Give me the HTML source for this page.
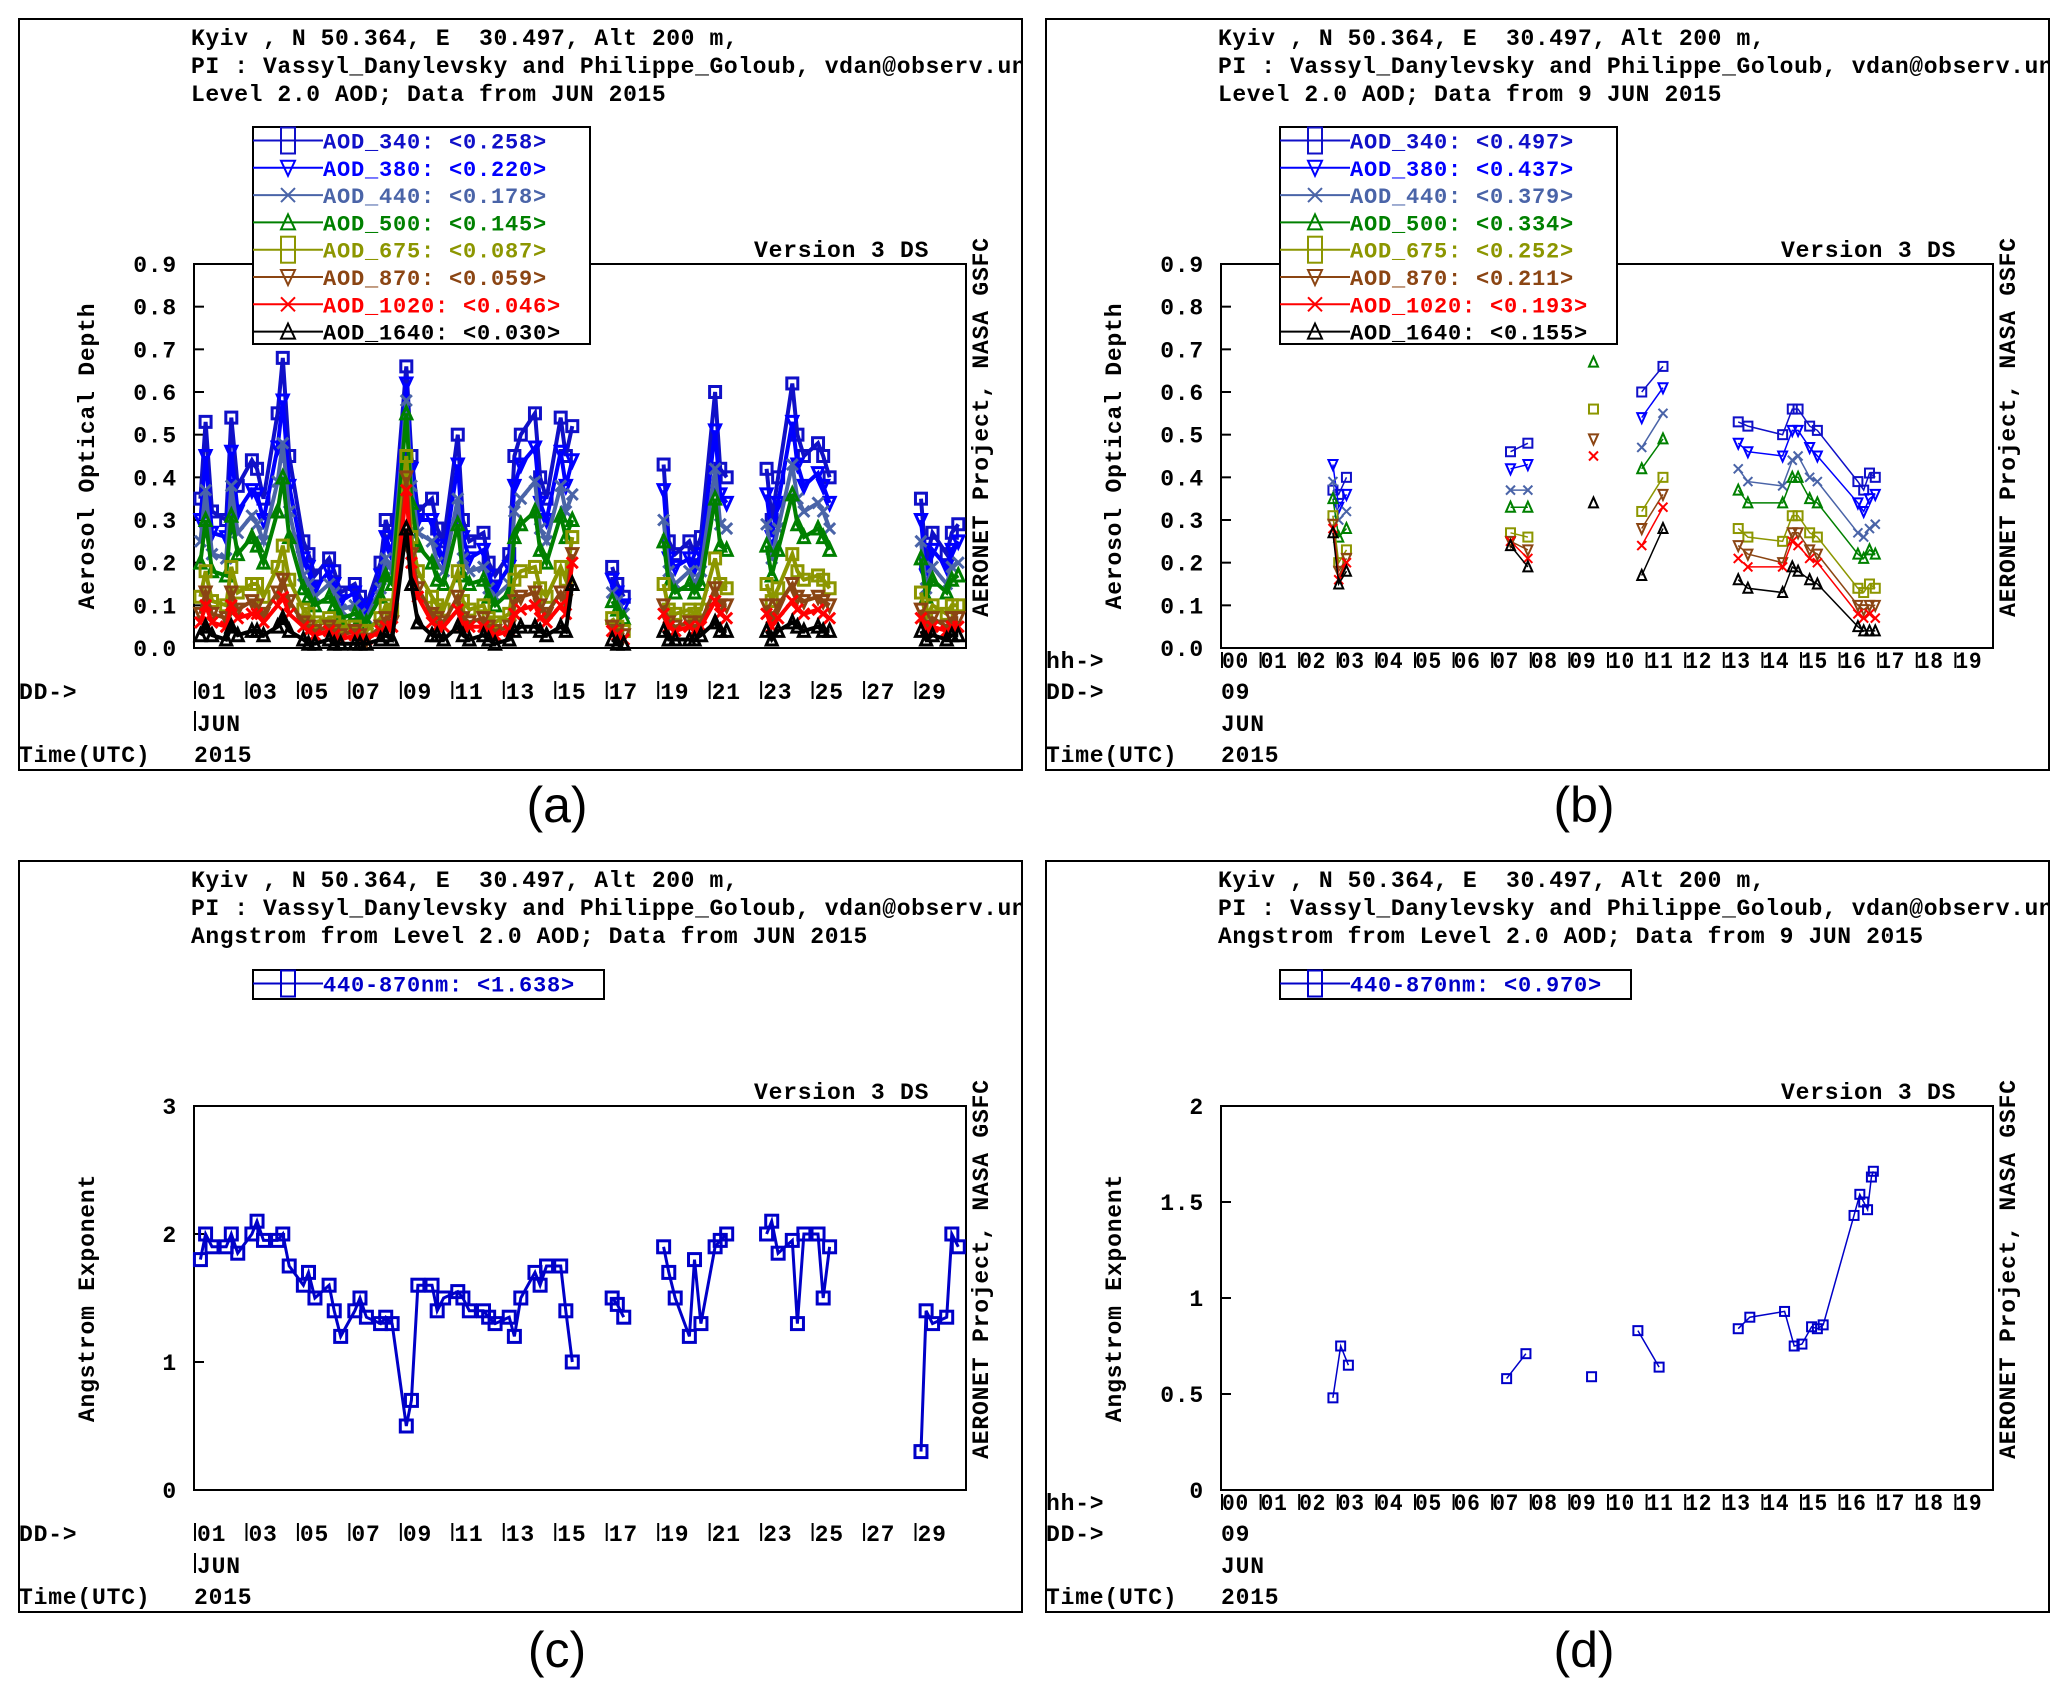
<!DOCTYPE html>
<html><head><meta charset="utf-8"><style>
html,body{margin:0;padding:0;background:#fff;}
svg{display:block;}
text{font-family:"Liberation Mono","DejaVu Sans Mono",monospace;font-weight:bold;white-space:pre;}
.lab{font-family:"Liberation Sans",sans-serif;font-weight:normal;}
</style></head><body>
<svg id="fig" width="2067" height="1702" viewBox="0 0 2067 1702" xmlns="http://www.w3.org/2000/svg" xml:space="preserve"></svg>
<script>
// ---------- Panel (a): monthly AOD ----------
const daysA = [0,1,2,3,4,5,6,7,8,9,10,11,12,13,14,16,18,19,20,22,23,24,28,29];
const fracA = [0.25,0.45,0.7];
const aod340 = [.35,.53,.32, .30,.54,.38, .44,.42,.35, .55,.68,.45, .25,.22,.17, .21,.18,.13, .15,.12,.10, .20,.30,.25, .66,.45,.32, .35,.28,.25, .50,.30,.25, .27,.20,.17, .22,.45,.50, .55,.40,.35, .54,.45,.52, .19,.15,.12, .43,.25,.22, .25,.22,.26, .60,.42,.40, .42,.30,.40, .62,.50,.45, .48,.45,.40, .35,.20,.27, .22,.27,.29];
const aod380 = [.30,.45,.27, .26,.46,.32, .37,.36,.30, .47,.58,.38, .21,.19,.14, .18,.15,.11, .13,.10,.09, .17,.26,.22, .62,.42,.30, .30,.24,.21, .43,.26,.21, .23,.17,.14, .19,.38,.43, .47,.34,.30, .46,.38,.44, .16,.13,.10, .37,.21,.19, .21,.19,.22, .51,.36,.34, .36,.26,.34, .53,.43,.38, .41,.38,.34, .30,.17,.23, .19,.23,.25];
const aod440 = [.25,.37,.22, .21,.38,.27, .31,.29,.25, .39,.48,.32, .17,.15,.12, .15,.13,.09, .10,.08,.07, .14,.21,.18, .58,.38,.27, .25,.20,.18, .35,.21,.18, .19,.14,.12, .15,.32,.35, .39,.28,.25, .38,.32,.36, .13,.11,.08, .30,.18,.15, .18,.15,.18, .42,.29,.28, .29,.21,.28, .43,.35,.32, .34,.32,.28, .25,.14,.19, .15,.19,.20];
const aod500 = [.20,.30,.18, .17,.31,.22, .26,.24,.20, .32,.40,.26, .14,.12,.10, .12,.10,.07, .08,.07,.06, .12,.17,.15, .55,.34,.24, .20,.16,.15, .29,.17,.15, .16,.12,.10, .13,.26,.29, .32,.23,.20, .31,.26,.30, .11,.09,.07, .25,.15,.13, .15,.13,.15, .35,.24,.23, .24,.17,.23, .36,.29,.26, .28,.26,.23, .21,.12,.16, .13,.16,.17];
const aod675 = [.12,.18,.11, .10,.19,.13, .15,.15,.12, .19,.24,.16, .09,.08,.06, .07,.06,.05, .05,.04,.04, .07,.10,.09, .45,.26,.18, .12,.10,.09, .18,.11,.09, .10,.07,.06, .08,.16,.18, .19,.14,.12, .19,.16,.26, .07,.05,.04, .15,.09,.08, .09,.08,.09, .21,.15,.14, .15,.11,.14, .22,.18,.16, .17,.16,.14, .13,.07,.10, .08,.10,.10];
const aod870 = [.08,.13,.08, .07,.13,.09, .11,.10,.08, .13,.16,.11, .06,.05,.04, .05,.04,.03, .04,.03,.02, .05,.07,.06, .40,.22,.14, .08,.07,.06, .12,.07,.06, .07,.05,.04, .05,.11,.12, .13,.10,.08, .13,.11,.22, .05,.04,.03, .10,.06,.05, .06,.05,.06, .14,.10,.10, .10,.07,.10, .15,.12,.11, .12,.11,.10, .09,.05,.07, .05,.07,.07];
const aod1020 = [.06,.10,.06, .05,.10,.07, .08,.08,.06, .10,.12,.08, .05,.04,.03, .04,.03,.02, .03,.02,.02, .04,.05,.05, .37,.20,.12, .06,.05,.05, .09,.05,.05, .05,.04,.03, .04,.08,.09, .10,.07,.06, .10,.08,.20, .04,.03,.02, .08,.05,.04, .05,.04,.05, .11,.08,.07, .08,.05,.07, .11,.09,.08, .09,.08,.07, .07,.04,.05, .04,.05,.05];
const aod1640 = [.03,.05,.03, .02,.05,.03, .04,.04,.03, .05,.07,.04, .02,.01,.01, .02,.01,.01, .01,.01,.01, .02,.03,.02, .28,.15,.06, .03,.03,.02, .05,.03,.02, .03,.02,.01, .02,.04,.05, .05,.04,.03, .05,.04,.15, .02,.01,.01, .04,.02,.02, .02,.02,.03, .06,.04,.04, .04,.02,.04, .06,.05,.04, .05,.04,.04, .04,.02,.03, .02,.03,.03];
const angA = [1.8,2.0,1.9, 1.9,2.0,1.85, 2.0,2.1,1.95, 1.95,2.0,1.75, 1.6,1.7,1.5, 1.6,1.4,1.2, 1.4,1.5,1.35, 1.3,1.35,1.3, 0.5,0.7,1.6, 1.6,1.4,1.5, 1.55,1.5,1.4, 1.4,1.35,1.3, 1.35,1.2,1.5, 1.7,1.6,1.75, 1.75,1.4,1.0, 1.5,1.45,1.35, 1.9,1.7,1.5, 1.2,1.8,1.3, 1.9,1.95,2.0, 2.0,2.1,1.85, 1.95,1.3,2.0, 2.0,1.5,1.9, 0.3,1.4,1.3, 1.35,2.0,1.9];
// ---------- Panel (b): 9 June AOD ----------
const hoursB = [2.9,3.05,3.25, 7.5,7.95, 9.65, 10.9,11.45, 13.4,13.65,14.55,14.8,14.95,15.25,15.45,16.5,16.65,16.8,16.95];
const groupB = [0,0,0, 1,1, 2, 3,3, 4,4,4,4,4,4,4,4,4,4,4];
const b340 = [0.37,0.36,0.40, 0.46,0.48, null, 0.60,0.66, 0.53,0.52,0.50,0.56,0.56,0.52,0.51,0.39,0.37,0.41,0.40];
const b380 = [0.43,0.33,0.36, 0.42,0.43, null, 0.54,0.61, 0.48,0.46,0.45,0.51,0.51,0.47,0.45,0.34,0.32,0.35,0.36];
const b440 = [0.39,0.30,0.32, 0.37,0.37, null, 0.47,0.55, 0.42,0.39,0.38,0.44,0.45,0.40,0.39,0.27,0.26,0.28,0.29];
const b500 = [0.35,0.26,0.28, 0.33,0.33, 0.67, 0.42,0.49, 0.37,0.34,0.34,0.40,0.40,0.35,0.34,0.22,0.21,0.23,0.22];
const b675 = [0.31,0.20,0.23, 0.27,0.26, 0.56, 0.32,0.40, 0.28,0.26,0.25,0.31,0.31,0.27,0.26,0.14,0.13,0.15,0.14];
const b870 = [0.29,0.18,0.21, 0.25,0.23, 0.49, 0.28,0.36, 0.24,0.22,0.20,0.27,0.27,0.23,0.22,0.10,0.09,0.10,0.10];
const b1020 = [0.28,0.16,0.20, 0.25,0.21, 0.45, 0.24,0.33, 0.21,0.19,0.19,0.25,0.24,0.21,0.20,0.08,0.07,0.08,0.07];
const b1640 = [0.27,0.15,0.18, 0.24,0.19, 0.34, 0.17,0.28, 0.16,0.14,0.13,0.19,0.18,0.16,0.15,0.05,0.04,0.04,0.04];
// ---------- Panel (d): 9 June Angstrom ----------
const hoursD = [2.9,3.1,3.3, 7.4,7.9, 9.6, 10.8,11.35, 13.4,13.7,14.6,14.85,15.05,15.3,15.45,15.6,16.4,16.55,16.65,16.75,16.85,16.9];
const groupD = [0,0,0, 1,1, 2, 3,3, 4,4,4,4,4,4,4,4,4,4,4,4,4,4];
const angD = [0.48,0.75,0.65, 0.58,0.71, 0.59, 0.83,0.64, 0.84,0.90,0.93,0.75,0.76,0.85,0.84,0.86,1.43,1.54,1.50,1.46,1.63,1.66];
// ---------- labels ----------
const legA = ["AOD_340: <0.258>","AOD_380: <0.220>","AOD_440: <0.178>","AOD_500: <0.145>","AOD_675: <0.087>","AOD_870: <0.059>","AOD_1020: <0.046>","AOD_1640: <0.030>"];
const legB = ["AOD_340: <0.497>","AOD_380: <0.437>","AOD_440: <0.379>","AOD_500: <0.334>","AOD_675: <0.252>","AOD_870: <0.211>","AOD_1020: <0.193>","AOD_1640: <0.155>"];
const aodTicks = ["0.0","0.1","0.2","0.3","0.4","0.5","0.6","0.7","0.8","0.9"];
const angTicksC = ["0","1","2","3"];
const angTicksD = ["0","0.5","1","1.5","2"];
const dayLabels = ["01","03","05","07","09","11","13","15","17","19","21","23","25","27","29"];
const hourLabels = ["00","01","02","03","04","05","06","07","08","09","10","11","12","13","14","15","16","17","18","19"];

const colors = ["#1010c8","#0000ff","#4a64a8","#008000","#8c9600","#8b4513","#ff0000","#000000"];
const markers = ["sq","dn","x","up","sq","dn","x","up"];
const seriesNames = ["340","380","440","500","675","870","1020","1640"];

const NS="http://www.w3.org/2000/svg";
const svg=document.getElementById('fig');
function el(tag,attrs,parent){const e=document.createElementNS(NS,tag);for(const k in attrs)e.setAttribute(k,attrs[k]);(parent||svg).appendChild(e);return e;}
function txt(s,x,y,attrs,parent){const e=el('text',Object.assign({x:x,y:y,'letter-spacing':'0.8'},attrs||{}),parent);e.textContent=s;return e;}
function marker(g,type,x,y,c,s,sw){
  s=s||4.5;sw=sw||2;let e;
  if(type==="sq"){e=el('rect',{x:x-s,y:y-s,width:2*s,height:2*s,fill:'none',stroke:c,'stroke-width':sw},g);}
  else if(type==="dn"){e=el('path',{d:`M${x-s} ${y-s}L${x+s} ${y-s}L${x} ${y+s+1}Z`,fill:'none',stroke:c,'stroke-width':sw},g);}
  else if(type==="up"){e=el('path',{d:`M${x-s} ${y+s}L${x+s} ${y+s}L${x} ${y-s-1}Z`,fill:'none',stroke:c,'stroke-width':sw},g);}
  else {e=el('path',{d:`M${x-s} ${y-s}L${x+s} ${y+s}M${x+s} ${y-s}L${x-s} ${y+s}`,stroke:c,'stroke-width':sw},g);}
  
  
}

function panel(ox,oy,o){
  const g=el('g',{});
  
  
  const cid='clip'+o.key;
  const cp=el('clipPath',{id:cid},g);el('rect',{x:19+ox,y:19+oy,width:1003,height:751},cp);
  const fr=el('rect',{x:19+ox,y:19+oy,width:1003,height:751,fill:'none',stroke:'#000','stroke-width':2},g);
  
  const tg=el('g',{'clip-path':`url(#${cid})`,'font-size':'23'},g);
  
  txt("Kyiv , N 50.364, E  30.497, Alt 200 m,",191+ox,45+oy,{'letter-spacing':'0.6'},tg);
  txt("PI : Vassyl_Danylevsky and Philippe_Goloub, vdan@observ.univ.kiev.ua",191+ox,73+oy,{'letter-spacing':'0.6'},tg);
  txt(o.line3,191+ox,101+oy,{'letter-spacing':'0.6'},tg);
  const X0=194+ox,X1=966+ox,Y0=264+oy,Y1=648+oy;
  const px=v=>X0+(v-o.xmin)/(o.xmax-o.xmin)*(X1-X0);
  const py=v=>Y1-(v-o.ymin)/(o.ymax-o.ymin)*(Y1-Y0);
  const pr=el('rect',{x:X0,y:Y0,width:X1-X0,height:Y1-Y0,fill:'none',stroke:'#000','stroke-width':2},g);
  
  o.yticks.forEach(t=>{const v=parseFloat(t);const y=py(v);
    el('line',{x1:X0,x2:X0+10,y1:y,y2:y,stroke:'#000','stroke-width':2},g);
    const e=txt(t,177+ox,y+8,{'text-anchor':'end','font-size':'23'},g);
    });
  const yt=txt(o.ytitle,0,0,{'text-anchor':'middle','font-size':'23',transform:`translate(${94+ox},${(Y0+Y1)/2+(o.ytOff||0)}) rotate(-90)`},g);
  
  const rt=txt("AERONET Project, NASA GSFC",0,0,{'text-anchor':'middle','font-size':'23',transform:`translate(${988+ox},${427+oy}) rotate(-90)`},g);
  
  const vt=txt("Version 3 DS",754+ox,257+oy,{'font-size':'23'},g);
  
  if(o.hourly){
    txt("hh->",19+ox,668+oy,{'font-size':'23'},g);
    hourLabels.forEach((h,i)=>{const x=px(i);el('line',{x1:x+1,x2:x+1,y1:652+oy,y2:668+oy,stroke:'#000','stroke-width':2},g);
      const e=txt(h,x+1,668+oy,{'font-size':'23',textLength:'27',lengthAdjust:'spacingAndGlyphs'},g);
      });
    txt("DD->",19+ox,699+oy,{'font-size':'23'},g);
    txt("09",X0,699+oy,{'font-size':'23'},g);
    txt("JUN",X0,731+oy,{'font-size':'23'},g);
  } else {
    txt("DD->",19+ox,699+oy,{'font-size':'23'},g);
    dayLabels.forEach((d,i)=>{const x=px(i*2);el('line',{x1:x+1,x2:x+1,y1:681+oy,y2:699+oy,stroke:'#000','stroke-width':2},g);
      const e=txt(d,x+3,699+oy,{'font-size':'23'},g);
      });
    el('line',{x1:X0+1,x2:X0+1,y1:711+oy,y2:731+oy,stroke:'#000','stroke-width':2},g);
    txt("JUN",X0+3,731+oy,{'font-size':'23'},g);
  }
  txt("Time(UTC)",19+ox,762+oy,{'font-size':'23'},g);
  txt("2015",X0,762+oy,{'font-size':'23'},g);
  const dg=el('g',{'clip-path':`url(#${cid})`},g);
  o.series.forEach((s,si)=>{
    const sg=el('g',{},dg);
    
    
    let d='',prevG=null;
    s.vals.forEach((v,i)=>{if(v===null){prevG=null;return;}
      const x=px(o.xs[i]),y=py(v);const gi=o.groups[i];
      d+=(prevG===gi?'L':'M')+x.toFixed(1)+' '+y.toFixed(1);prevG=gi;});
    el('path',{d:d,fill:'none',stroke:s.color,'stroke-width':o.lw||1.5},sg);
    s.vals.forEach((v,i)=>{if(v===null)return;marker(sg,s.marker,px(o.xs[i]),py(v),s.color,o.ms,o.msw);});
  });
  const lg=el('g',{},g);
  
  const lx=253+ox;
  const rowH=27.3;
  const lh=o.legend.length>1?217:29;
  el('rect',{x:lx,y:o.legY,width:o.legW,height:lh,fill:'#fff',stroke:'#000','stroke-width':2},lg);
  o.legend.forEach((t,i)=>{
    const cy=o.legY+13.5+i*rowH;const c=o.series[i].color;
    const row=el('g',{},lg);
    
    
    el('line',{x1:lx,x2:lx+70,y1:cy,y2:cy,stroke:c,'stroke-width':2},row);
    const mx=lx+35;
    if(o.series[i].marker==='sq'){el('rect',{x:mx-7,y:cy-13,width:14,height:26,fill:'none',stroke:c,'stroke-width':2},row);}
    else marker(row,o.series[i].marker,mx,cy,c,7,2);
    txt(t,lx+70,cy+8,{fill:c,'font-size':'22'},row);
  });
}

const aSeries=[aod340,aod380,aod440,aod500,aod675,aod870,aod1020,aod1640];
const bSeries=[b340,b380,b440,b500,b675,b870,b1020,b1640];
const xsA=[];const grpA=[];
daysA.forEach((d,k)=>{fracA.forEach(f=>{xsA.push(d+f);grpA.push(k>0&&d-daysA[k-1]>1.5?k:(grpA.length?grpA[grpA.length-1]:0));});});

panel(0,0,{key:'a',name:'panel-a-monthly-aod',line3:"Level 2.0 AOD; Data from JUN 2015",xmin:0,xmax:30,ymin:0,ymax:0.9,
  yticks:aodTicks,ytitle:"Aerosol Optical Depth",xs:xsA,groups:grpA,lw:4,ms:5.5,msw:3,
  series:aSeries.map((v,i)=>({name:'aod-'+seriesNames[i],vals:v,color:colors[i],marker:markers[i]})),
  legend:legA,legW:337,legY:127});
panel(1027,0,{key:'b',name:'panel-b-daily-aod',line3:"Level 2.0 AOD; Data from 9 JUN 2015",xmin:0,xmax:20,ymin:0,ymax:0.9,hourly:true,
  yticks:aodTicks,ytitle:"Aerosol Optical Depth",xs:hoursB,groups:groupB,
  series:bSeries.map((v,i)=>({name:'aod-'+seriesNames[i],vals:v,color:colors[i],marker:markers[i]})),
  legend:legB,legW:337,legY:127});
panel(0,842,{key:'c',name:'panel-c-monthly-angstrom',line3:"Angstrom from Level 2.0 AOD; Data from JUN 2015",xmin:0,xmax:30,ymin:0,ymax:3,
  yticks:angTicksC,ytitle:"Angstrom Exponent",xs:xsA,groups:grpA,lw:3,ms:6,msw:3,
  series:[{name:'angstrom-440-870',vals:angA,color:'#0000c8',marker:'sq'}],
  legend:["440-870nm: <1.638>"],legW:351,legY:970});
panel(1027,842,{key:'d',name:'panel-d-daily-angstrom',line3:"Angstrom from Level 2.0 AOD; Data from 9 JUN 2015",xmin:0,xmax:20,ymin:0,ymax:2,hourly:true,
  yticks:angTicksD,ytitle:"Angstrom Exponent",xs:hoursD,groups:groupD,
  series:[{name:'angstrom-440-870',vals:angD,color:'#0000c8',marker:'sq'}],
  legend:["440-870nm: <0.970>"],legW:351,legY:970});

[["(a)",557,822],["(b)",1584,822],["(c)",557,1667],["(d)",1584,1667]].forEach(l=>{
  const e=txt(l[0],l[1],l[2],{'text-anchor':'middle','font-size':'50',class:'lab','letter-spacing':'0'});
  
  
});
</script>
</body></html>
